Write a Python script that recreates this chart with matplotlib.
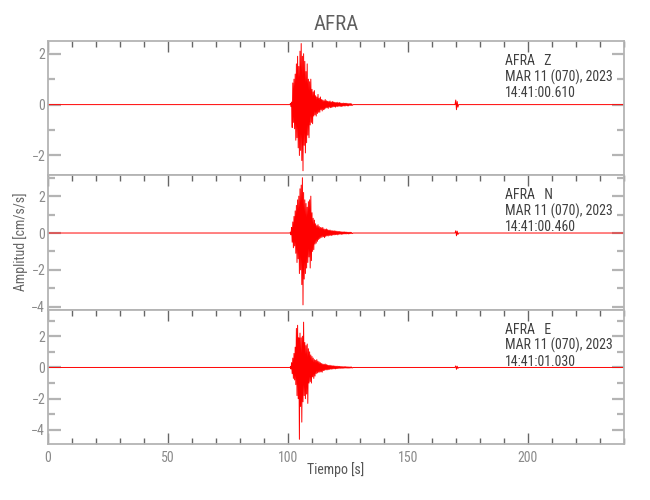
import matplotlib
matplotlib.use("Agg")
import matplotlib.pyplot as plt
import numpy as np
from matplotlib.ticker import MultipleLocator

plt.rcParams['font.family'] = ['Liberation Sans Narrow', 'Roboto Condensed', 'DejaVu Sans']
plt.rcParams['font.stretch'] = 'condensed'

# Datos
estacion = "AFRA"
componentes = ["Z", "N", "E"]
fecha = "MAR 11 (070), 2023"
horas = ["14:41:00.610", "14:41:00.460", "14:41:01.030"]

# ventana del evento: inicio y paso de muestreo [s]
t_inicio = 101.0
dt = 0.25

amp_z = [0.05, -0.08, 0.1, -0.9, 0.85, -0.7, 1.0, -0.95,
         1.2, -1.4, 1.6, -1.3, 1.9, -1.7, 1.5, -2.0,
         2.1, -1.8, 2.4, -2.2, 1.9, -2.6, 2.0, -1.6,
         1.7, -1.9, 1.3, -1.5, 1.6, -1.2, 1.0, -1.3,
         0.9, -0.8, 1.0, -0.7, 0.6, -0.75, 0.5, -0.45,
         0.55, -0.4, 0.35, -0.45, 0.3, -0.35, 0.4, -0.3,
         0.25, -0.3, 0.3, -0.2, 0.2, -0.25, 0.18, -0.2,
         0.15, -0.18, 0.2, -0.14, 0.15, -0.12, 0.13, -0.15,
         0.12, -0.1, 0.14, -0.12, 0.1, -0.11, 0.12, -0.09,
         0.1, -0.08, 0.09, -0.1, 0.08, -0.07, 0.09, -0.08,
         0.07, -0.06, 0.08, -0.07, 0.06, -0.07, 0.05, -0.06,
         0.06, -0.05, 0.05, -0.06, 0.05, -0.04, 0.05, -0.05,
         0.04, -0.05, 0.04, -0.03, 0.04, -0.04, 0.03, -0.03]

amp_n = [0.05, -0.1, 0.3, -0.5, 0.6, -0.8, 0.9, -0.7,
         1.2, -1.1, 1.5, -1.6, 1.8, -1.4, 2.0, -2.2,
         2.4, -2.0, 2.6, -2.8, 3.0, -3.9, 2.2, -2.5,
         1.8, -2.2, 1.6, -1.9, 1.4, -1.6, 1.7, -1.3,
         1.8, -1.9, 2.0, -1.5, 1.1, -1.0, 0.8, -0.9,
         0.7, -0.6, 0.5, -0.55, 0.4, -0.45, 0.45, -0.35,
         0.35, -0.3, 0.3, -0.25, 0.28, -0.22, 0.3, -0.2,
         0.22, -0.25, 0.2, -0.18, 0.22, -0.15, 0.18, -0.16,
         0.15, -0.13, 0.16, -0.12, 0.13, -0.14, 0.12, -0.1,
         0.11, -0.1, 0.12, -0.09, 0.1, -0.08, 0.09, -0.1,
         0.08, -0.07, 0.08, -0.06, 0.07, -0.07, 0.06, -0.06,
         0.06, -0.05, 0.06, -0.05, 0.05, -0.05, 0.05, -0.04,
         0.04, -0.05, 0.04, -0.04, 0.04, -0.03, 0.03, -0.03]

amp_e = [0.05, -0.1, 0.3, -0.4, 0.6, -0.7, 0.9, -0.8,
         1.3, -1.1, 2.5, -1.8, 2.7, -2.0, 1.9, -4.6,
         2.2, -2.5, 1.9, -3.5, 2.0, -2.2, 2.9, -1.8,
         1.6, -2.0, 1.4, -1.7, 1.5, -2.3, 1.2, -1.0,
         1.0, -0.9, 0.8, -1.0, 0.7, -0.6, 0.6, -0.7,
         0.5, -0.55, 0.45, -0.4, 0.5, -0.35, 0.4, -0.3,
         0.35, -0.3, 0.3, -0.28, 0.25, -0.3, 0.22, -0.2,
         0.2, -0.18, 0.22, -0.15, 0.18, -0.16, 0.15, -0.14,
         0.13, -0.12, 0.14, -0.1, 0.12, -0.11, 0.1, -0.09,
         0.1, -0.08, 0.09, -0.09, 0.08, -0.07, 0.08, -0.07,
         0.07, -0.06, 0.07, -0.06, 0.06, -0.05, 0.06, -0.05,
         0.05, -0.05, 0.05, -0.04, 0.05, -0.04, 0.04, -0.04,
         0.04, -0.04, 0.03, -0.04, 0.03, -0.03, 0.03, -0.03]

# fondo tranquilo y pequena senal a ~170 s: (tiempo, amplitud)
fondo_t = [0, 100.9, 127.2, 169.6, 169.9, 170.2, 170.5, 170.8, 171.1, 240]
fondo_z = [0, 0, 0, 0, 0.18, -0.2, 0.12, -0.1, 0, 0]
fondo_n = [0, 0, 0, 0, 0.12, -0.15, 0.1, -0.08, 0, 0]
fondo_e = [0, 0, 0, 0, 0.1, -0.12, 0.08, -0.06, 0, 0]

limites_y = [(-2.78, 2.5), (-4.16, 3.13), (-4.9, 3.7)]
xmax = 240

trazas = [amp_z, amp_n, amp_e]
fondos = [fondo_z, fondo_n, fondo_e]

gris = '#b4b4b4'
fig = plt.figure(figsize=(6.5, 5), dpi=100)
axes = fig.subplots(3, 1, sharex=True)
fig.subplots_adjust(left=48/650, right=624/650, bottom=1-444/500, top=1-41/500, hspace=0)

for i, ax in enumerate(axes):
    amp = trazas[i]
    t = t_inicio + dt * np.arange(len(amp))
    ft = np.array(fondo_t)
    fa = np.array(fondos[i])
    antes = ft < t_inicio
    despues = ft > t[-1]
    tt = np.concatenate([ft[antes], t, ft[despues]])
    aa = np.concatenate([fa[antes], amp, fa[despues]])
    ax.plot(tt, aa, color='red', lw=0.7)

    ax.set_xlim(0, xmax)
    ax.set_ylim(*limites_y[i])
    ax.xaxis.set_major_locator(MultipleLocator(50))
    ax.xaxis.set_minor_locator(MultipleLocator(10))
    ax.yaxis.set_major_locator(MultipleLocator(2))
    ax.yaxis.set_minor_locator(MultipleLocator(1))
    ax.tick_params(which='both', direction='in', top=True, right=True,
                   bottom=(i == 2), labelcolor='#8a8a8a', labelsize=10)
    ax.tick_params(axis='x', which='both', color='#666666', width=1.0, pad=5)
    ax.tick_params(axis='y', which='both', color=gris, width=1.6, pad=2)
    ax.tick_params(axis='x', which='major', length=8)
    ax.tick_params(axis='x', which='minor', length=4)
    ax.tick_params(axis='y', which='major', length=9)
    ax.tick_params(axis='y', which='minor', length=5)
    for s in ax.spines.values():
        s.set_color(gris)
        s.set_linewidth(1.3)

    ax.text(0.793, 0.821, "%s   %s" % (estacion, componentes[i]), transform=ax.transAxes,
            fontsize=10, color='#404040', va='baseline')
    ax.text(0.793, 0.701, fecha, transform=ax.transAxes, fontsize=10, color='#404040', va='baseline')
    ax.text(0.793, 0.582, horas[i], transform=ax.transAxes, fontsize=10, color='#404040', va='baseline')

fig.text(336/650, 1-30/500, estacion, fontsize=15, color='#606060', ha='center', va='baseline')
fig.text(21/650, 1-242/500, "Amplitud [cm/s/s]", fontsize=10, color='#666666',
         rotation=90, ha='center', va='center')
fig.text(336/650, 1-470/500, "Tiempo [s]", fontsize=10, color='#555555', ha='center', va='center')

plt.savefig("out.png", dpi=100)
